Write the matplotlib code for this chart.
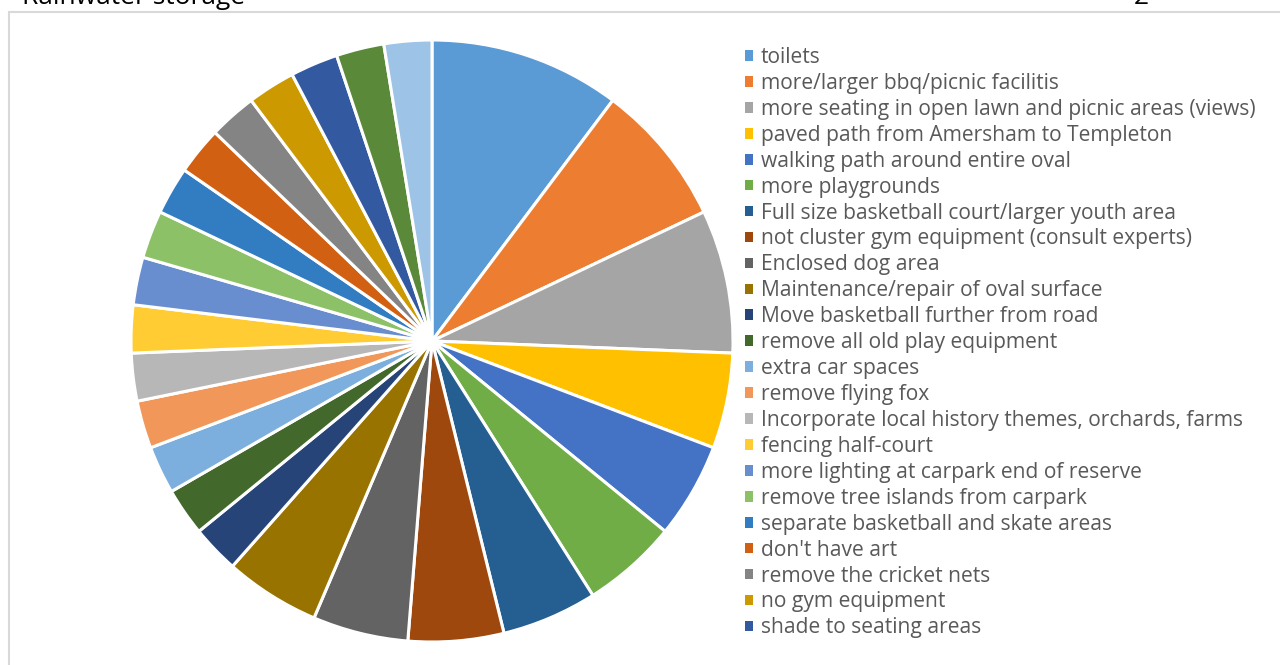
import matplotlib.pyplot as plt
from matplotlib.patches import Patch, Rectangle

# Survey responses (count of mentions)
labels = [
    "toilets",
    "more/larger bbq/picnic facilitis",
    "more seating in open lawn and picnic areas (views)",
    "paved path from Amersham to Templeton",
    "walking path around entire oval",
    "more playgrounds",
    "Full size basketball court/larger youth area",
    "not cluster gym equipment (consult experts)",
    "Enclosed dog area",
    "Maintenance/repair of oval surface",
    "Move basketball further from road",
    "remove all old play equipment",
    "extra car spaces",
    "remove flying fox",
    "Incorporate local history themes, orchards, farms",
    "fencing half-court",
    "more lighting at carpark end of reserve",
    "remove tree islands from carpark",
    "separate basketball and skate areas",
    "don't have art",
    "remove the cricket nets",
    "no gym equipment",
    "shade to seating areas",
    "(not shown 1)",
    "(not shown 2)",
]
values = [4, 3, 3, 2, 2, 2, 2, 2, 2, 2,
          1, 1, 1, 1, 1, 1, 1, 1, 1, 1, 1, 1, 1, 1, 1]
colors = [
    "#5B9BD5", "#ED7D31", "#A5A5A5", "#FFC000", "#4472C4", "#70AD47",
    "#255E91", "#9E480E", "#636363", "#997300", "#264478", "#43682B",
    "#7CAFDD", "#F1975A", "#B7B7B7", "#FFCD33", "#698ED0", "#8CC168",
    "#327DC2", "#D26012", "#848484", "#CC9A00", "#335AA1", "#5A8A39",
    "#9DC3E6",
]
n_legend = 23  # legend box only fits the first 23 entries

W, H = 1280, 665
fig = plt.figure(figsize=(W / 100, H / 100), dpi=100)
plt.rcParams['font.family'] = ['Open Sans', 'DejaVu Sans']

# chart frame (continues off the right and bottom edge)
fig.patches.append(Rectangle((8.5 / W, -0.1), 1.2, (H - 11.5) / H + 0.1,
                             transform=fig.transFigure, fill=False,
                             edgecolor="#d9d9d9", linewidth=1.5))

# cropped spreadsheet row above the chart
fig.text(22 / W, 1 - 4 / H, "Rainwater storage", fontsize=19, color="black",
         va="baseline", ha="left")
fig.text(1134 / W, 1 - 4 / H, "2", fontsize=19, color="black",
         va="baseline", ha="left")

cx, cy, r = 432, 341, 301
ax = fig.add_axes([(cx - r) / W, (H - cy - r) / H, 2 * r / W, 2 * r / H])
wedges, _ = ax.pie(values, colors=colors, startangle=90, counterclock=False,
                   radius=1, wedgeprops=dict(edgecolor="white", linewidth=2.2))
ax.set_xlim(-1, 1)
ax.set_ylim(-1, 1)
ax.set_aspect("equal")
ax.axis("off")

handles = [Patch(facecolor=c, edgecolor="none") for c in colors[:n_legend]]
leg = fig.legend(handles, labels[:n_legend], loc="upper left",
                 bbox_to_anchor=(745 / W, 1 - 47 / H), frameon=False,
                 fontsize=15.1, handlelength=0.4, handleheight=0.4,
                 handletextpad=0.35, labelspacing=0.235, borderpad=0,
                 borderaxespad=0)
for t in leg.get_texts():
    t.set_color("#595959")

fig.savefig("out.png", dpi=100)
